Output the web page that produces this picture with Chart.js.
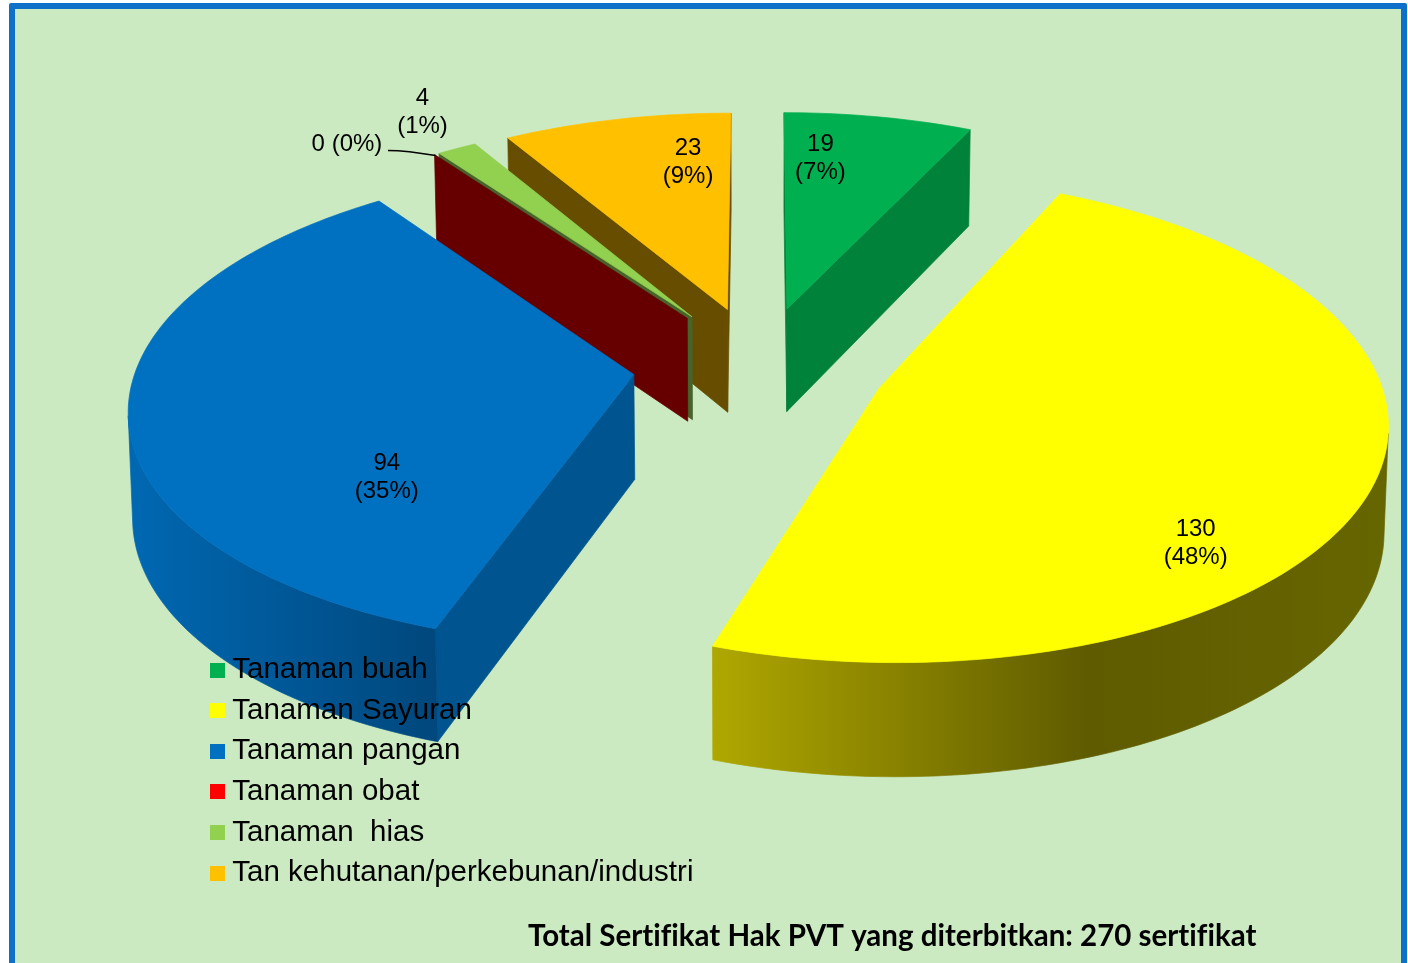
<!DOCTYPE html>
<html>
<head>
<meta charset="utf-8">
<script src="https://cdn.jsdelivr.net/npm/chart.js@4"></script>
<style>
html, body { margin: 0; padding: 0; background: #fff; overflow: hidden; }
#frame { position: absolute; left: 9px; top: 3px; width: 1398px; height: 980px; box-sizing: border-box;
         border: 6px solid #0e70c8; border-radius: 2px; background: #cceac2; }
#pieChart { position: absolute; left: 0; top: 0; }
</style>
</head>
<body>
<div id="frame"></div>
<canvas id="pieChart" width="1408" height="963"></canvas>
<script>
var categories = ['Tanaman buah', 'Tanaman Sayuran', 'Tanaman pangan', 'Tanaman obat', 'Tanaman  hias', 'Tan kehutanan/perkebunan/industri'];
var values = [19, 130, 94, 0, 4, 23];
var total = 270;
var titleText = 'Total Sertifikat Hak PVT yang diterbitkan: 270 sertifikat';

var sliceColors = ['#00b050', '#ffff00', '#0070c0', '#ff0000', '#92d050', '#ffc000'];
var topColors = ['#00b050', '#ffff00', '#0070c0', '#660000', '#92d050', '#ffc000'];
var wallColors = ['#00823b', '#666600', '#00548f', '#660000', '#46632a', '#664d00'];
// label shift in px from the point 0.6 of the way out along each slice
var labelShift = [[-24, -30], [25, 100], [54, 81], [-183, -72], [-123, -100], [30, -28]];

// perspective of the tilted pie
var view = { cx: 760, cy: 365.5, ax: 497, ay: 234, k: 0.125, depth: 104.5, explode: 0.2555 };

function project(X, Y, lower) {
    var w = 1 + view.k * Y;
    var x = view.cx + view.ax * X / w;
    var y = view.cy - view.ay * Y / w;
    if (lower) {
        x = view.cx + (x - view.cx) * 0.993;
        y += view.depth / Math.pow(w, 0.6);
    }
    return { x: x, y: y };
}

function sliceInfo(arc) {
    // library angles start at -PI/2, theta here is clockwise from north
    var a0 = arc.startAngle + Math.PI / 2;
    var a1 = arc.endAngle + Math.PI / 2;
    var mid = (a0 + a1) / 2;
    return { a0: a0, a1: a1, mid: mid, ox: view.explode * Math.sin(mid), oy: view.explode * Math.cos(mid) };
}

function outlineOf(s) {
    var pts = [{ X: s.ox, Y: s.oy }];
    var steps = Math.max(1, Math.ceil((s.a1 - s.a0) / 0.02));
    for (var i = 0; i <= steps; i++) {
        var t = s.a0 + (s.a1 - s.a0) * i / steps;
        pts.push({ X: s.ox + Math.sin(t), Y: s.oy + Math.cos(t), rim: i < steps });
    }
    return pts;
}

function fillPoly(ctx, poly, style) {
    ctx.beginPath();
    poly.forEach(function (p, i) { if (i) ctx.lineTo(p.x, p.y); else ctx.moveTo(p.x, p.y); });
    ctx.closePath();
    ctx.fillStyle = style;
    ctx.strokeStyle = style;
    ctx.lineWidth = 0.7;
    ctx.fill();
    ctx.stroke();
}

function rimStyle(ctx, index) {
    var g;
    if (index === 1) {
        g = ctx.createLinearGradient(710, 0, 1385, 0);
        g.addColorStop(0, '#b0a800');
        g.addColorStop(0.56, '#5f5b00');
        g.addColorStop(1, '#666600');
        return g;
    }
    if (index === 2) {
        g = ctx.createLinearGradient(130, 0, 440, 0);
        g.addColorStop(0, '#0068b2');
        g.addColorStop(1, '#00477c');
        return g;
    }
    return wallColors[index];
}

function drawSlice(ctx, arc, index) {
    var s = sliceInfo(arc);
    var pts = outlineOf(s);
    var rim = rimStyle(ctx, index);
    var upper = [], under = [];
    function flushRim() {
        if (upper.length) fillPoly(ctx, upper.concat(under.reverse()), rim);
        upper = [];
        under = [];
    }
    for (var i = 0; i < pts.length; i++) {
        var a = pts[i];
        var b = pts[(i + 1) % pts.length];
        var p1 = project(a.X, a.Y), p2 = project(b.X, b.Y);
        var q1 = project(a.X, a.Y, true), q2 = project(b.X, b.Y, true);
        var poly = [p1, p2, q2, q1];
        var area = 0;
        poly.forEach(function (p, j) {
            var n = poly[(j + 1) % 4];
            area += p.x * n.y - n.x * p.y;
        });
        // only the walls that face the viewer
        if (area < 0) {
            if (a.rim) {
                if (!upper.length) { upper.push(p1); under.push(q1); }
                upper.push(p2);
                under.push(q2);
            } else {
                fillPoly(ctx, poly, wallColors[index]);
            }
        } else {
            flushRim();
        }
    }
    flushRim();
    if (s.a1 > s.a0) {
        fillPoly(ctx, pts.map(function (p) { return project(p.X, p.Y); }), topColors[index]);
    }
}

var tiltedPie = {
    id: 'tiltedPie',
    afterLayout: function (chart) {
        chart.legend.left = 206.4;
        chart.legend.right = 900;
        chart.legend.top = 644.3;
        chart.titleBlock.left = 528;
        chart.titleBlock.right = 1300;
        chart.titleBlock.top = 919;
        chart.titleBlock.bottom = 962;
    },
    // drawn before the layers so the legend sits on top of the pie
    beforeDraw: function (chart) {
        var ctx = chart.ctx;
        // no fi ligatures in the title
        ctx.letterSpacing = '0.01px';
        var arcs = chart.getDatasetMeta(0).data;
        var order = arcs.map(function (a, i) { return i; });
        order.sort(function (i, j) { return sliceInfo(arcs[j]).oy - sliceInfo(arcs[i]).oy; });
        order.forEach(function (i) { drawSlice(ctx, arcs[i], i); });
    },
    beforeDatasetsDraw: function () { return false; },
    afterDraw: function (chart) {
        var ctx = chart.ctx;
        var arcs = chart.getDatasetMeta(0).data;
        ctx.save();
        ctx.fillStyle = '#000';
        ctx.font = '24px "Liberation Sans"';
        ctx.textAlign = 'center';
        ctx.textBaseline = 'middle';
        arcs.forEach(function (arc, i) {
            var s = sliceInfo(arc);
            var p = project(s.ox + 0.6 * Math.sin(s.mid), s.oy + 0.6 * Math.cos(s.mid));
            var x = p.x + labelShift[i][0], y = p.y + labelShift[i][1];
            var pct = '(' + Math.round(values[i] / total * 100) + '%)';
            if (values[i] === 0) {
                ctx.fillText(values[i] + ' ' + pct, x, y);
                var end = project(s.ox + Math.sin(s.mid), s.oy + Math.cos(s.mid));
                ctx.beginPath();
                ctx.moveTo(x + 41, y + 6);
                ctx.quadraticCurveTo(x + 60, y + 6, end.x + 1, end.y + 1);
                ctx.strokeStyle = '#000';
                ctx.lineWidth = 1.5;
                ctx.stroke();
            } else {
                ctx.fillText(values[i], x, y - 14);
                ctx.fillText(pct, x, y + 14);
            }
        });
        ctx.restore();
    }
};

function swatch(color) {
    var c = document.createElement('canvas');
    c.width = 15;
    c.height = 15;
    var g = c.getContext('2d');
    g.fillStyle = color;
    g.fillRect(0, 0, 15, 15);
    return c;
}

var ctx = document.getElementById('pieChart').getContext('2d');
var myChart = new Chart(ctx, {
    type: 'pie',
    data: {
        labels: categories,
        datasets: [{
            data: values,
            backgroundColor: sliceColors,
            borderWidth: 0
        }]
    },
    options: {
        responsive: false,
        animation: false,
        events: [],
        plugins: {
            legend: {
                position: 'chartArea',
                align: 'start',
                labels: {
                    usePointStyle: true,
                    pointStyleWidth: 0.01,
                    padding: 11.1,
                    color: '#000',
                    font: { family: '"Liberation Sans"', size: 29.5 },
                    generateLabels: function (chart) {
                        var items = Chart.overrides.doughnut.plugins.legend.labels.generateLabels(chart);
                        items.forEach(function (it, i) { it.pointStyle = swatch(sliceColors[i]); });
                        return items;
                    }
                }
            },
            title: {
                display: true,
                text: titleText,
                position: 'bottom',
                align: 'start',
                color: '#000',
                padding: 0,
                font: { family: 'Lato', weight: 'bold', size: 29.5 }
            },
            tooltip: { enabled: false }
        }
    },
    plugins: [tiltedPie]
});
</script>
</body>
</html>
